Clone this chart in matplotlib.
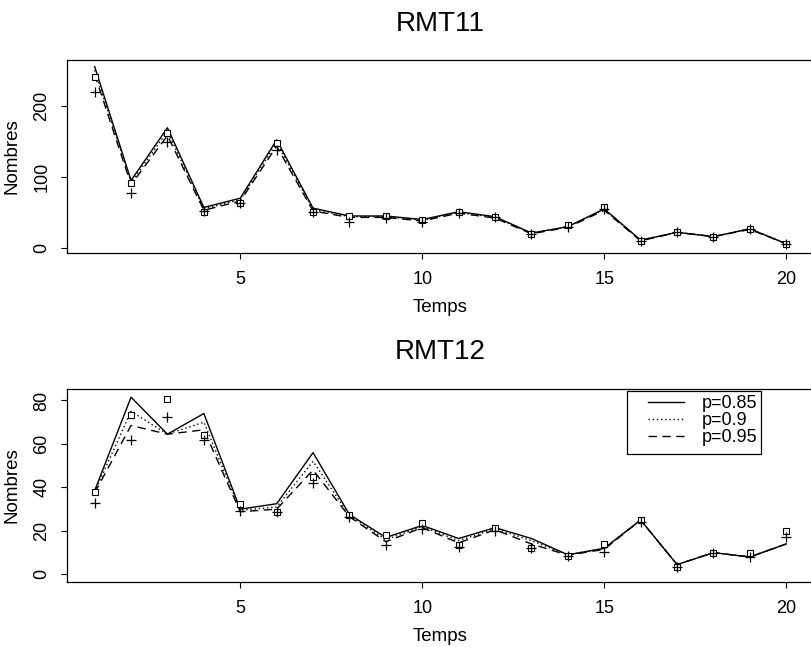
import numpy as np
import matplotlib
matplotlib.use("Agg")
import matplotlib.pyplot as plt
from matplotlib.patches import Rectangle

plt.rcParams['font.family'] = ['Liberation Sans', 'DejaVu Sans']

temps = np.arange(1, 21)
labels = ["p=0.85", "p=0.9", "p=0.95"]

# RMT11
rmt11_085 = [255, 95, 169, 57, 70, 152, 56, 45, 45, 40, 51, 44, 21, 30, 55, 11, 22, 16, 27, 6]
rmt11_090 = [250, 92, 164, 55, 68, 148, 54, 44, 44, 39, 50, 43, 21, 30, 54, 11, 22, 16, 27, 6]
rmt11_095 = [244, 89, 158, 53, 66, 143, 52, 43, 43, 38, 49, 42, 20, 29, 53, 10, 22, 16, 26, 6]
rmt11_carres = [240, 91, 162, 51, 63, 148, 50, 45, 45, 40, 51, 44, 20, 32, 57, 10, 22, 16, 26, 6]
rmt11_plus = [219, 77, 149, 52, 63, 138, 50, 36, 42, 36, 49, 43, 20, 30, 55, 10, 22, 16, 27, 5]

# RMT12
rmt12_085 = [38.5, 81.5, 64.5, 74, 30, 32.5, 56, 27.5, 17, 22.5, 16.5, 21.5, 16.5, 9, 12, 25, 4.5, 10, 8, 14]
rmt12_090 = [38, 75, 64.5, 70, 29.5, 31, 52, 27, 16, 22, 15.5, 21, 15.5, 9, 12, 25, 4.5, 10, 8, 14]
rmt12_095 = [37.5, 68.5, 64.5, 66.5, 28.8, 30, 48, 26.5, 15, 21.5, 14.5, 20.5, 14, 8.8, 11.5, 25, 4.5, 10, 8, 14]
rmt12_carres = [38, 73.5, 80.5, 64, 32.5, 28.8, 45, 27.5, 18, 23.5, 13.5, 21.5, 12, 8.5, 14, 25, 3.5, 10, 10, 20]
rmt12_plus = [33, 62, 72.5, 62, 29, 28.8, 42, 26.5, 13.5, 21, 12.5, 20, 12, 8.5, 10.5, 24, 3.5, 10, 8, 17]

styles = ['-', (0, (1, 2)), (0, (6, 4))]

fig = plt.figure(figsize=(8.11, 6.47), dpi=100)
ax1 = fig.add_axes([0.0826, 0.609, 0.921, 0.298])
ax2 = fig.add_axes([0.0826, 0.1005, 0.921, 0.299])


def panel(ax, courbes, carres, plus, titre, ylim, yticks):
    for y, ls, lab in zip(courbes, styles, labels):
        ax.plot(temps, y, color='black', lw=1.0, ls=ls, label=lab)
    ax.plot(temps, carres, ls='none', marker='s', ms=5, mfc='white',
            mec='black', mew=0.8)
    ax.plot(temps, plus, ls='none', marker='+', ms=7, mec='black', mew=0.9)
    ax.set_xlim(0.24, 20.76)
    ax.set_ylim(*ylim)
    ax.set_xticks([5, 10, 15, 20])
    ax.set_yticks(yticks)
    ax.tick_params(direction='out', length=4, width=0.8, labelsize=13)
    ax.tick_params(axis='x', pad=9)
    ax.tick_params(axis='y', pad=8)
    for lab in ax.get_yticklabels():
        lab.set_rotation(90)
        lab.set_va('center')
    for s in ax.spines.values():
        s.set_linewidth(0.9)
    ax.set_xlabel("Temps", fontsize=13.5, labelpad=8)
    ax.set_ylabel("Nombres", fontsize=13.5, labelpad=9)
    ax.set_title(titre, fontsize=20, pad=21)


panel(ax1, [rmt11_085, rmt11_090, rmt11_095], rmt11_carres, rmt11_plus,
      "RMT11", (-7, 264), [0, 100, 200])
panel(ax2, [rmt12_085, rmt12_090, rmt12_095], rmt12_carres, rmt12_plus,
      "RMT12", (-3.5, 85.5), [0, 20, 40, 60, 80])

leg = ax2.legend(loc='upper right', bbox_to_anchor=(0.927, 0.975),
                 frameon=False, fontsize=13, handlelength=2.0,
                 handletextpad=1.0, labelspacing=0.0, borderpad=0.1,
                 borderaxespad=0)
ax2.add_patch(Rectangle((0.7497, 0.66), 0.1793, 0.325, transform=ax2.transAxes,
                        fill=False, lw=0.9, edgecolor='black', zorder=5))

fig.savefig("out.png", dpi=100)
